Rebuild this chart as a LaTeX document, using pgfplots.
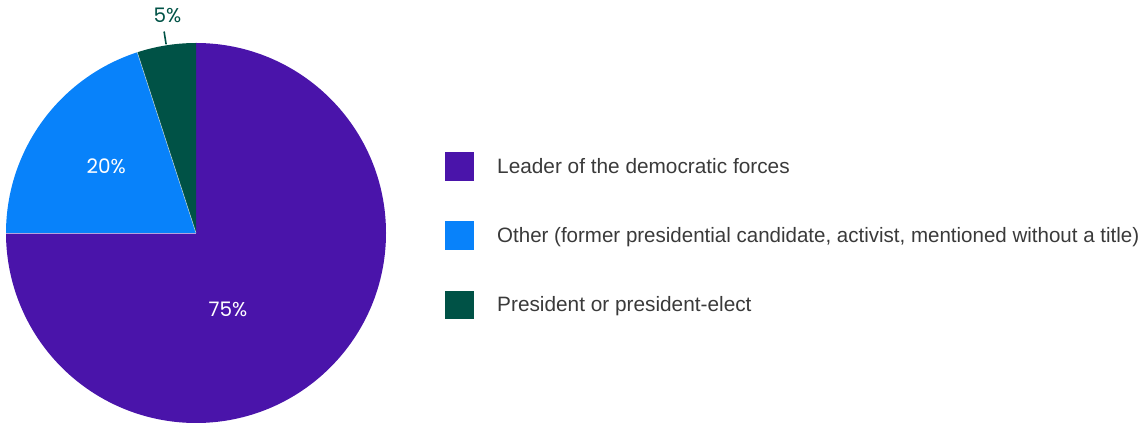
\documentclass[border=0pt]{standalone}
\usepackage{pgfplots}
\pgfplotsset{compat=1.18}
\usepackage{pgfplotstable}
\usepackage{graphicx}
\usepackage{fontspec}
\setmainfont{Liberation Sans}
\newfontfamily\pctfont{Poppins}
\definecolor{cPurple}{HTML}{4A14AA}
\definecolor{cBlue}{HTML}{0882FA}
\definecolor{cGreen}{HTML}{005246}
\definecolor{cText}{HTML}{3A3A3A}

\pgfplotstableread{
label value
Leader 75
Other 20
President 5
}\piedata
\pgfplotstablegetelem{0}{value}\of\piedata \let\vA\pgfplotsretval
\pgfplotstablegetelem{1}{value}\of\piedata \let\vB\pgfplotsretval
\pgfplotstablegetelem{2}{value}\of\piedata \let\vC\pgfplotsretval
\pgfmathsetmacro\aA{90}
\pgfmathsetmacro\aB{\aA-3.6*\vA}
\pgfmathsetmacro\aC{\aB-3.6*\vB}
\pgfmathsetmacro\aD{\aC-3.6*\vC}
\pgfmathsetmacro\mC{(\aC+\aD)/2}

\begin{document}
\begin{tikzpicture}
\useasboundingbox (0,0) rectangle (1141pt,425pt);
\begin{axis}[
  at={(0,0)}, anchor=south west,
  scale only axis, width=1141pt, height=425pt,
  xmin=0, xmax=1141, ymin=0, ymax=425,
  hide axis, clip=false,
]
\addplot[draw=none, forget plot] coordinates {(0,0) (1141,425)};
% slices
\fill[cPurple] (axis cs:196,192) -- ([shift={(\aA:190pt)}]axis cs:196,192) arc[start angle=\aA, end angle=\aB, radius=190pt] -- cycle;
\fill[cBlue] (axis cs:196,192) -- ([shift={(\aB:190pt)}]axis cs:196,192) arc[start angle=\aB, end angle=\aC, radius=190pt] -- cycle;
\fill[cGreen] (axis cs:196,192) -- ([shift={(\aC:190pt)}]axis cs:196,192) arc[start angle=\aC, end angle=\aD, radius=190pt] -- cycle;
\draw[white, opacity=0.6, line width=0.6pt] (axis cs:196,192) -- ([shift={(\aB:190pt)}]axis cs:196,192);
\draw[white, opacity=0.6, line width=0.6pt] (axis cs:196,192) -- ([shift={(\aC:190pt)}]axis cs:196,192);
% leader
\draw[cGreen, line width=1.6pt] ([shift={(\mC:191pt)}]axis cs:196,192) -- ([shift={(\mC:204pt)}]axis cs:196,192);
% percent labels
\node[anchor=center, inner sep=0, text=white, font=\pctfont\fontsize{20}{24}\selectfont] at (axis cs:228,116) {75\%};
\node[anchor=center, inner sep=0, text=white, font=\pctfont\fontsize{20}{24}\selectfont] at (axis cs:106.2,258.3) {20\%};
\node[anchor=center, inner sep=0, text=cGreen, font=\pctfont\fontsize{20}{24}\selectfont] at (axis cs:167.5,410) {5\%};
% legend
\fill[cPurple] (axis cs:445,244.3) rectangle (axis cs:474,272.7);
\fill[cBlue] (axis cs:445,175.2) rectangle (axis cs:474,203.6);
\fill[cGreen] (axis cs:445,106) rectangle (axis cs:474,134.4);
\node[anchor=base west, inner sep=0, text=cText, font=\fontsize{20.8}{24}\selectfont] at (axis cs:497,251.7) {Leader of the democratic forces};
\node[anchor=base west, inner sep=0, text=cText, font=\fontsize{20.8}{24}\selectfont] at (axis cs:497,182.5) {\resizebox{642pt}{\height}{Other (former presidential candidate, activist, mentioned without a title)}};
\node[anchor=base west, inner sep=0, text=cText, font=\fontsize{20.8}{24}\selectfont] at (axis cs:497,113) {President or president-elect};
\end{axis}
\end{tikzpicture}
\end{document}
